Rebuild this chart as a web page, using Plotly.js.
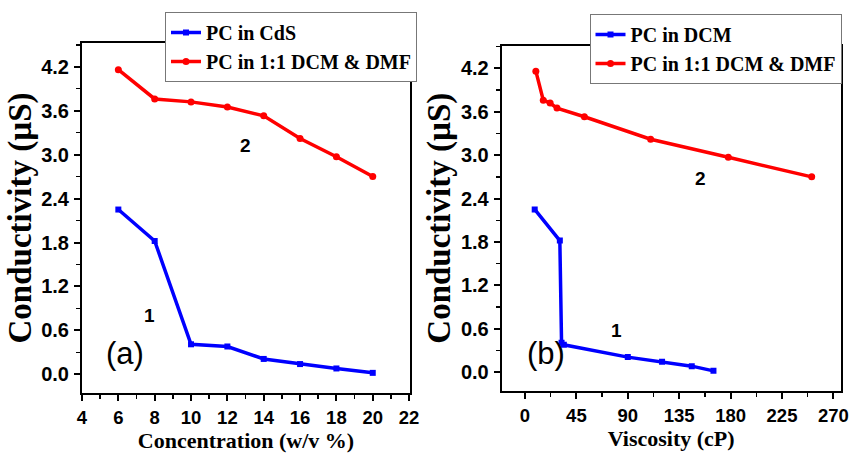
<!DOCTYPE html>
<html>
<head>
<meta charset="utf-8">
<script src="https://cdn.plot.ly/plotly-3.0.1.min.js"></script>
<style>html,body{margin:0;padding:0;background:#fff}#chart{width:849px;height:458px}</style>
</head>
<body>
<div id="chart"></div>
<script>
// ---- data ----
const concentration = [6, 8, 10, 12, 14, 16, 18, 20];          // w/v %
const condCdS       = [2.25, 1.82, 0.41, 0.38, 0.21, 0.14, 0.08, 0.02];  // µS, PC in CdS
const condMixA      = [4.16, 3.76, 3.72, 3.65, 3.53, 3.22, 2.97, 2.70];  // µS, PC in 1:1 DCM & DMF
const viscDCM       = [8.5, 30.5, 32, 34, 90, 120, 146, 165];            // cP
const condDCM       = [2.25, 1.82, 0.41, 0.38, 0.21, 0.145, 0.085, 0.02];
const viscMix       = [9.5, 16, 22, 28, 52, 110, 178, 251];              // cP
const condMixB      = [4.16, 3.76, 3.72, 3.65, 3.53, 3.22, 2.97, 2.70];
const yTicks = [0.0, 0.6, 1.2, 1.8, 2.4, 3.0, 3.6, 4.2];
const xTicksA = [4, 6, 8, 10, 12, 14, 16, 18, 20, 22];
const xTicksB = [0, 45, 90, 135, 180, 225, 270];

const BLUE = '#0000ff', RED = '#ff0000';
const W = 849, H = 458;
const tickFont = (s) => ({family: 'Liberation Sans, Arial, sans-serif', size: s, color: '#000', weight: 700});
const titleFont = {family: 'Liberation Serif, Times New Roman, serif', size: 22, color: '#000', weight: 700};
const yTitleFont = {family: 'Liberation Serif, Times New Roman, serif', size: 33, color: '#000', weight: 700};
const legFont = {family: 'Liberation Serif, Times New Roman, serif', size: 20, color: '#000', weight: 700};

function xAxis(domain, range, ticks, dtick, title, anchor) {
  return {
    domain: domain, range: range, anchor: anchor,
    tickmode: 'array', tickvals: ticks, ticktext: ticks.map(v => '<b>' + v + '</b>'),
    ticks: 'outside', ticklen: 6, tickwidth: 2, tickcolor: '#000',
    minor: {dtick: dtick, ticks: 'outside', ticklen: 4, tickwidth: 1.5, tickcolor: '#000', showgrid: false},
    showline: true, linecolor: '#000', linewidth: 2, mirror: true,
    showgrid: false, zeroline: false, tickfont: tickFont(18.5), ticklabelstandoff: 1,
    ticklabeloverflow: 'allow',
    title: {text: '<b>' + title + '</b>', font: titleFont, standoff: 3}
  };
}
function yAxis(domain, range, anchor) {
  return {
    domain: domain, range: range, anchor: anchor,
    tickmode: 'array', tickvals: yTicks, ticktext: yTicks.map(v => '<b>' + v.toFixed(1) + '</b>'),
    ticks: 'outside', ticklen: 6, tickwidth: 2, tickcolor: '#000',
    minor: {dtick: 0.3, ticks: 'outside', ticklen: 4, tickwidth: 1.5, tickcolor: '#000', showgrid: false},
    showline: true, linecolor: '#000', linewidth: 2, mirror: true,
    showgrid: false, zeroline: false, tickfont: tickFont(20), ticklabelstandoff: 1,
    ticklabeloverflow: 'allow',
    title: {text: '<b>Conductivity (µS)</b>', font: yTitleFont, standoff: 0}
  };
}

const traces = [
  {x: concentration, y: condCdS, name: '<b>PC in CdS</b>', mode: 'lines+markers', xaxis: 'x', yaxis: 'y',
   line: {color: BLUE, width: 3.5}, marker: {symbol: 'square', size: 6, color: BLUE}, legend: 'legend'},
  {x: concentration, y: condMixA, name: '<b>PC in 1:1 DCM &amp; DMF</b>', mode: 'lines+markers', xaxis: 'x', yaxis: 'y',
   line: {color: RED, width: 3.5}, marker: {symbol: 'circle', size: 7, color: RED}, legend: 'legend'},
  {x: viscDCM, y: condDCM, name: '<b>PC in DCM</b>', mode: 'lines+markers', xaxis: 'x2', yaxis: 'y2',
   line: {color: BLUE, width: 3.5}, marker: {symbol: 'square', size: 6, color: BLUE}, legend: 'legend2'},
  {x: viscMix, y: condMixB, name: '<b>PC in 1:1 DCM &amp; DMF</b>', mode: 'lines+markers', xaxis: 'x2', yaxis: 'y2',
   line: {color: RED, width: 3.5}, marker: {symbol: 'circle', size: 7, color: RED}, legend: 'legend2'}
];

const legendStyle = (x, y) => ({
  x: x, y: y, xanchor: 'left', yanchor: 'top', xref: 'paper', yref: 'paper',
  bgcolor: '#fff', bordercolor: '#777', borderwidth: 1, font: legFont,
  tracegroupgap: 0, itemwidth: 30
});

const annFont = {family: 'Liberation Sans, Arial, sans-serif', size: 19, color: '#000', weight: 700};
const labFont = {family: 'Liberation Sans, Arial, sans-serif', size: 31, color: '#000'};

const layout = {
  width: W, height: H,
  margin: {l: 0, r: 0, t: 0, b: 0},
  paper_bgcolor: '#fff', plot_bgcolor: '#fff',
  showlegend: true,
  xaxis: xAxis([82 / W, 410 / W], [4, 22.05], xTicksA, 1, 'Concentration (w/v %)', 'y'),
  yaxis: yAxis([(H - 393) / H, (H - 43) / H], [-0.255, 4.524], 'x'),
  xaxis2: xAxis([501.7 / W, 840.7 / W], [-20.4, 276.4], xTicksB, 22.5, 'Viscosity (cP)', 'y2'),
  yaxis2: yAxis([(H - 390.7) / H, (H - 45.7) / H], [-0.254, 4.512], 'x2'),
  legend: legendStyle(165 / W, 1 - 12 / H),
  legend2: legendStyle(589.5 / W, 1 - 14 / H),
  annotations: [
    {text: '<b>1</b>', x: 7.74, y: 0.81, xref: 'x', yref: 'y', showarrow: false, font: annFont},
    {text: '<b>2</b>', x: 12.97, y: 3.13, xref: 'x', yref: 'y', showarrow: false, font: annFont},
    {text: '<b>1</b>', x: 79.7, y: 0.575, xref: 'x2', yref: 'y2', showarrow: false, font: annFont},
    {text: '<b>2</b>', x: 153.9, y: 2.68, xref: 'x2', yref: 'y2', showarrow: false, font: annFont},
    {text: '(a)', x: (104 - 82) / 328, y: (393 - 373.5) / 350, xref: 'x domain', yref: 'y domain', showarrow: false, font: labFont},
    {text: '(b)', x: (524.7 - 501.7) / 339, y: (390.7 - 373) / 345, xref: 'x2 domain', yref: 'y2 domain', showarrow: false, font: labFont}
  ]
};

Plotly.newPlot('chart', traces, layout, {displayModeBar: false, staticPlot: true});
</script>
</body>
</html>
